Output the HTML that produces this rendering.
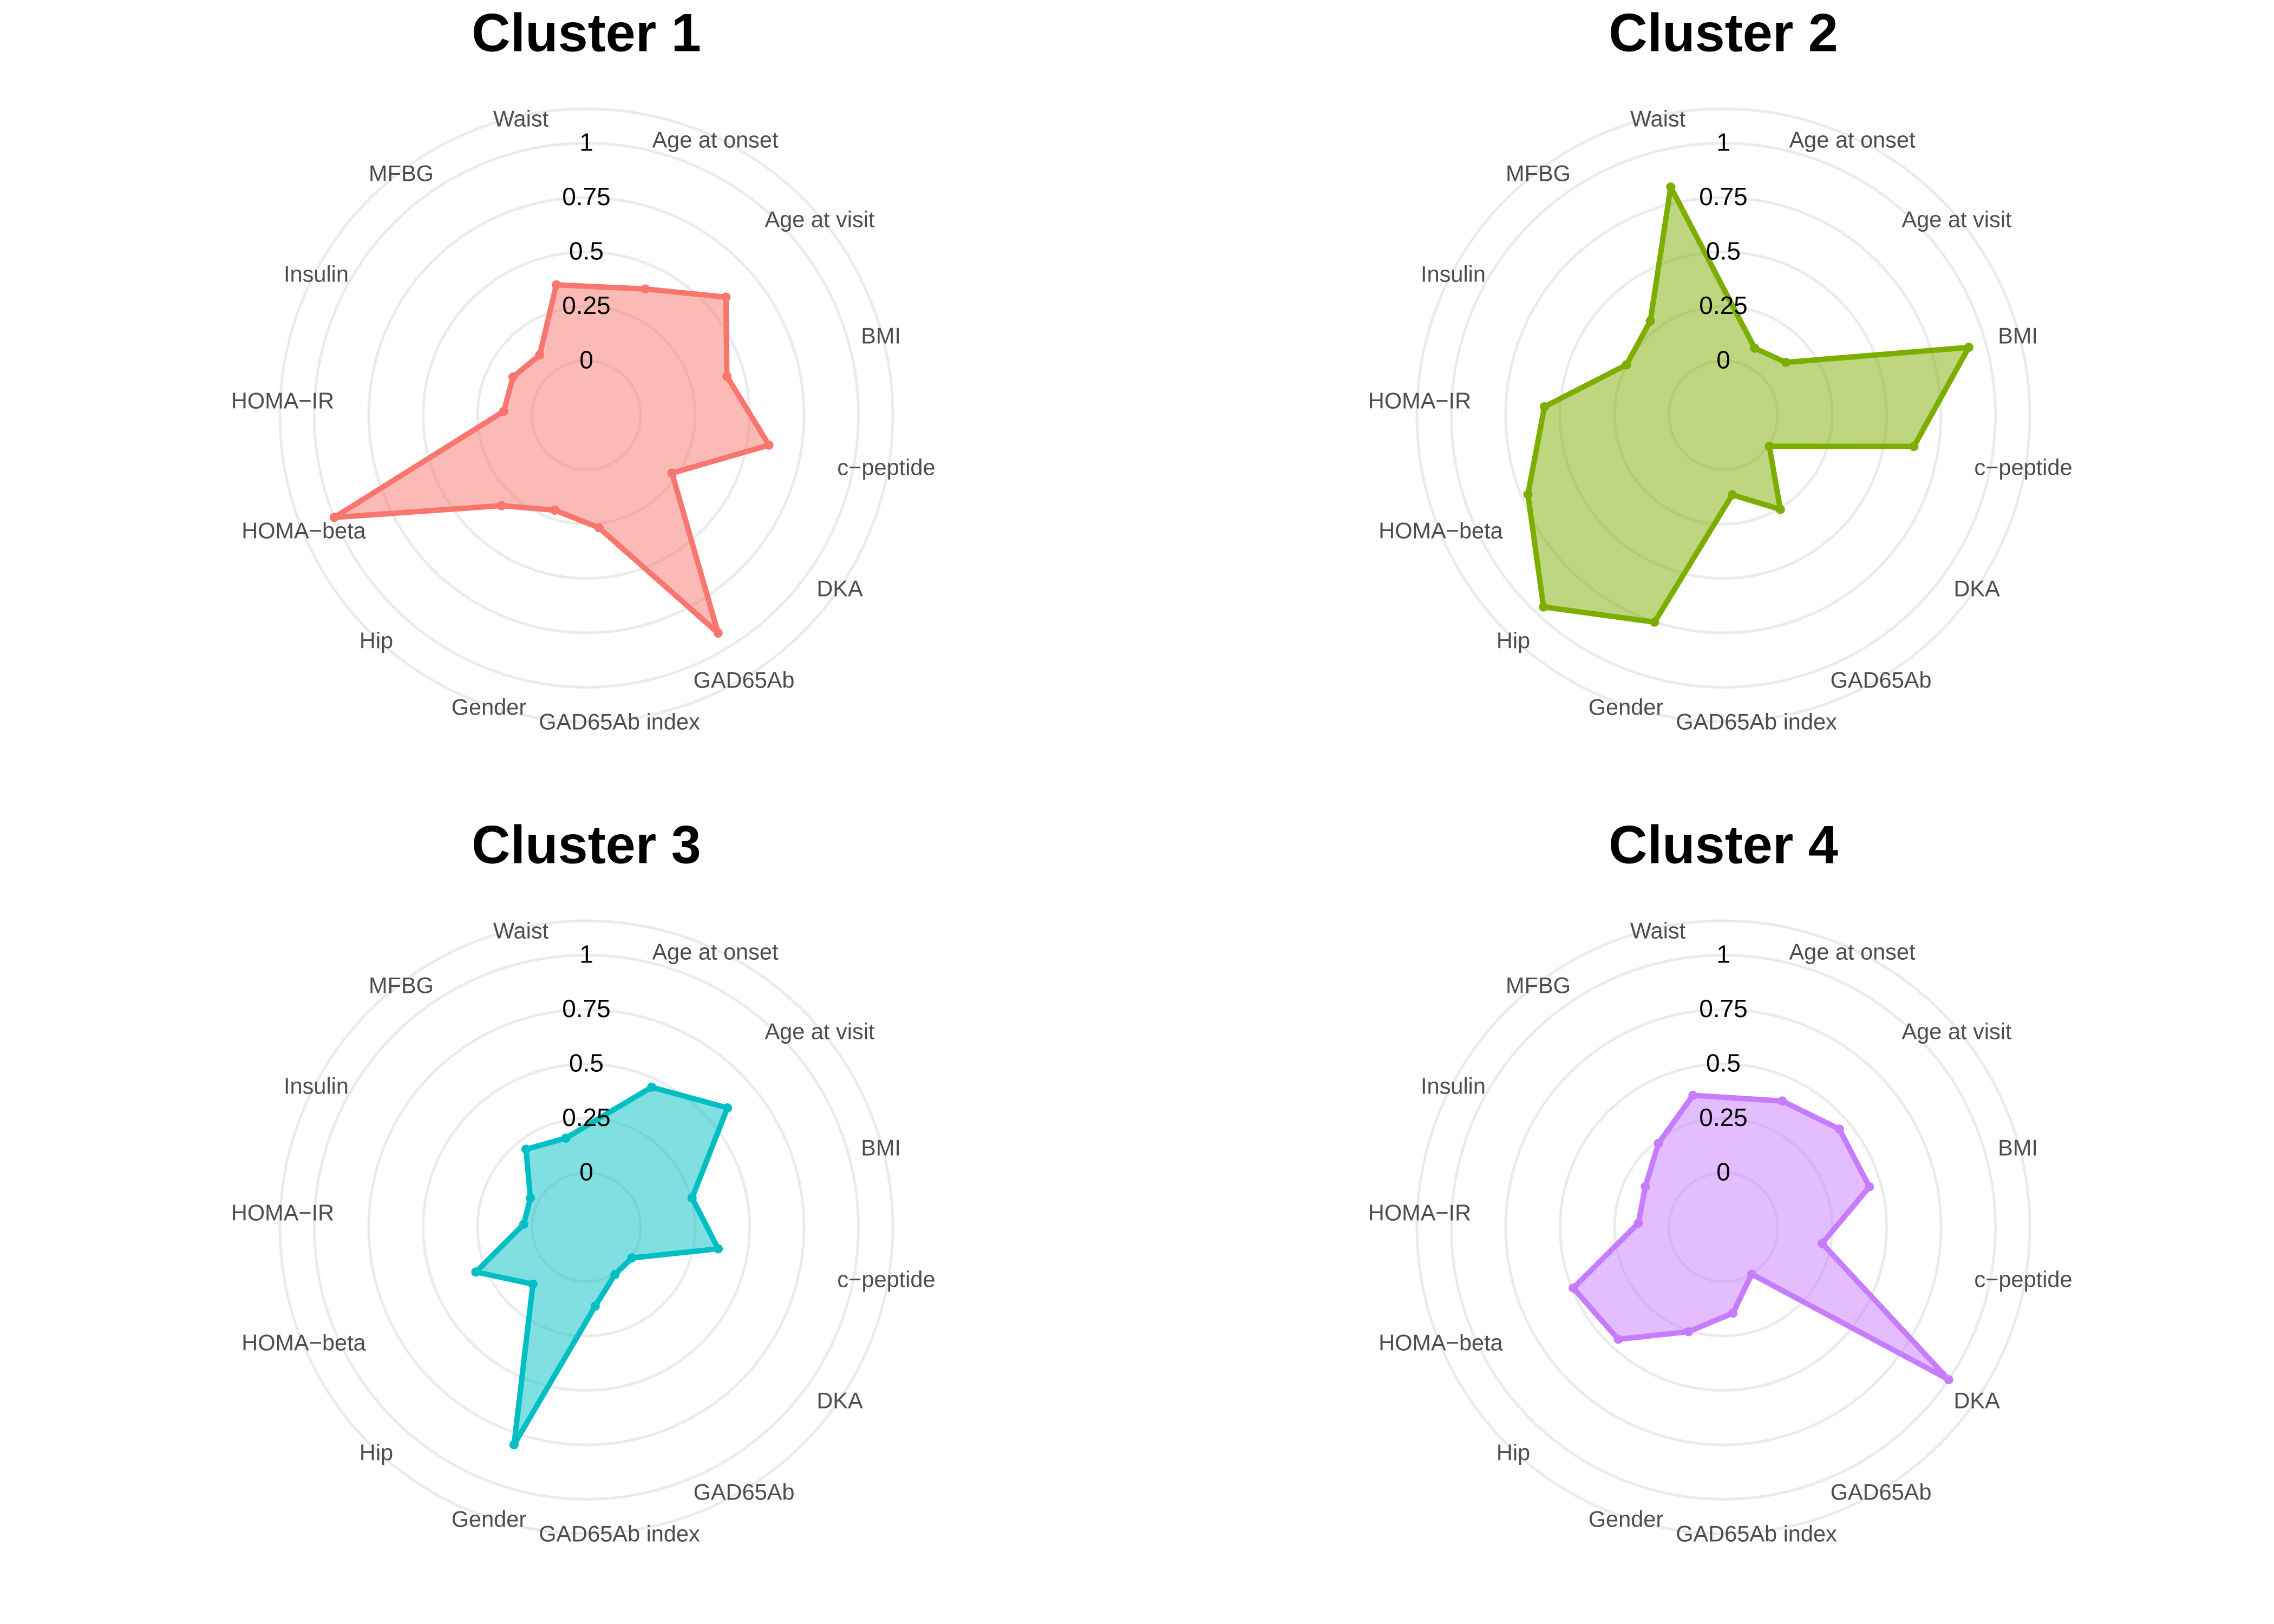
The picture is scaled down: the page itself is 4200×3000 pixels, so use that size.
<!DOCTYPE html>
<html><head><meta charset="utf-8">
<style>
html,body{margin:0;padding:0;background:#fff;}
svg{display:block;}
</style></head>
<body>
<svg id="chart" width="4200" height="3000" viewBox="0 0 4200 3000" xmlns="http://www.w3.org/2000/svg" font-family="'Liberation Sans', Arial, sans-serif">
<rect width="4200" height="3000" fill="#ffffff"/>
</svg>
<script>
const variables = ["Age at onset","Age at visit","BMI","c\u2212peptide","DKA","GAD65Ab","GAD65Ab index","Gender","Hip","HOMA\u2212beta","HOMA\u2212IR","Insulin","MFBG","Waist"];
const clusterNames = ["Cluster 1","Cluster 2","Cluster 3","Cluster 4"];
const cluster1Values = [0.39,0.59,0.42,0.60,0.225,0.92,0.27,0.21,0.32,1.0,0.13,0.13,0.10,0.365];
const cluster2Values = [0.09,0.126,0.92,0.637,0.005,0.256,0.118,0.752,0.958,0.719,0.573,0.252,0.298,0.826];
const cluster3Values = [0.46,0.599,0.254,0.364,0.002,0.004,0.115,0.803,0.109,0.298,0.038,0.04,0.203,0.17];
const cluster4Values = [0.39,0.448,0.446,0.21,1.0,0.002,0.147,0.256,0.456,0.494,0.141,0.154,0.237,0.372];
const gridValues = [0,0.25,0.5,0.75,1];
const gridLabels = ["0","0.25","0.5","0.75","1"];

const seriesValues = [cluster1Values,cluster2Values,cluster3Values,cluster4Values];
const colors = ["#F8766D","#7CAE00","#00BFC4","#C77CFF"];
const centers = [[1083,767],[3183,767],[1083,2267],[3183,2267]];
const labelOffsets = [[238,-509],[431,-362],[544,-147],[554,96],[468,320],[291,489],[61,566],[-180,539],[-388,416],[-522,213],[-561,-27],[-499,-261],[-342,-447],[-121,-548]];
const NS = "http://www.w3.org/2000/svg";
const svg = document.getElementById("chart");
const startDeg = 25, stepDeg = 24.77, centreVal = -0.25, pxPerUnit = 402, outerR = 566;
function rScale(v){ return (v - centreVal) * pxPerUnit; }
function angle(i){ return (startDeg + stepDeg*i) * Math.PI/180; }
function pt(cx,cy,i,v){ const r=rScale(v), a=angle(i); return [cx + r*Math.sin(a), cy - r*Math.cos(a)]; }
function mk(tag, attrs, parent){ const e=document.createElementNS(NS,tag); for(const k in attrs) e.setAttribute(k,attrs[k]); (parent||svg).appendChild(e); return e; }

seriesValues.forEach((vals, c) => {
  const [cx,cy] = centers[c];
  const g = mk("g",{});
  
  
  const title = mk("text",{x:cx, y:cy-707, "text-anchor":"middle", "dominant-baseline":"central", "font-size":99, "font-weight":"bold", fill:"#000"}, g);
  title.textContent = clusterNames[c];
  
  
  gridValues.forEach((gv) => {
    const ring = mk("circle",{cx:cx, cy:cy, r:rScale(gv), fill:"none", stroke:"#ebebeb", "stroke-width":5}, g);
    
    
  });
  const outer = mk("circle",{cx:cx, cy:cy, r:outerR, fill:"none", stroke:"#ebebeb", "stroke-width":5}, g);
  
  
  const pts = vals.map((v,i) => pt(cx,cy,i,v));
  const poly = mk("polygon",{points: pts.map(p=>p.join(",")).join(" "), fill:colors[c], "fill-opacity":0.5, stroke:colors[c], "stroke-width":10, "stroke-linejoin":"round"}, g);
  
  
  pts.forEach((p) => {
    const dot = mk("circle",{cx:p[0], cy:p[1], r:8.5, fill:colors[c]}, g);
    
    
  });
  gridValues.forEach((gv, k) => {
    const t = mk("text",{x:cx, y:cy - rScale(gv) - 2, "text-anchor":"middle", "dominant-baseline":"central", "font-size":46, fill:"#000"}, g);
    t.textContent = gridLabels[k];
    
    
  });
  variables.forEach((name, i) => {
    const t = mk("text",{x:cx + labelOffsets[i][0], y:cy + labelOffsets[i][1], "text-anchor":"middle", "dominant-baseline":"central", "font-size":41.5, fill:"#4d4d4d"}, g);
    t.textContent = name;
    
    
  });
});
</script>
</body></html>
